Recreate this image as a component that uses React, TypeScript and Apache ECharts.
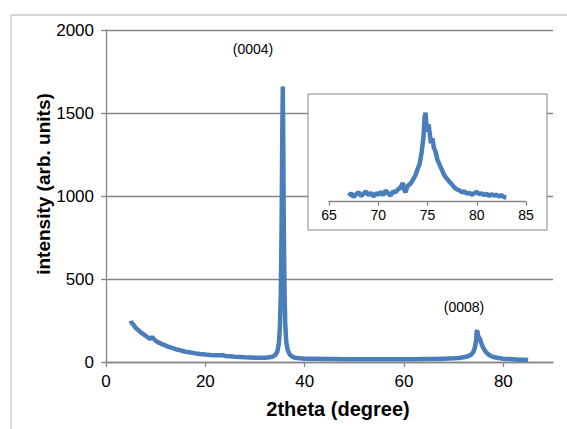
import React, { useEffect, useRef } from "react";
import * as echarts from "echarts";

const twoTheta = [
  5, 5.2, 5.5, 5.8, 6, 6.5, 7, 7.5, 8, 8.5, 9, 9.3, 9.6, 10, 10.5, 11, 11.5, 12, 12.5, 13, 13.5, 14, 14.5, 15,
  15.5, 16, 16.5, 17, 17.5, 18, 18.5, 19, 19.5, 20, 21, 22, 23, 23.5, 24, 25, 26, 27, 28, 29, 30, 31, 32, 33,
  33.5, 34, 34.5, 34.8, 35.0, 35.2, 35.35, 35.5, 35.6, 35.7, 35.8, 35.95, 36.1, 36.3, 36.6, 37, 37.5, 38, 39,
  40, 42, 44, 46, 48, 50, 52, 54, 56, 58, 60, 62, 64, 66, 68, 70, 71, 72, 73, 73.5, 74, 74.3, 74.5, 74.65,
  74.75, 74.9, 75.1, 75.3, 75.5, 75.8, 76.1, 76.5, 77, 77.5, 78, 79, 80, 81, 82, 83, 84, 85,
];
const intensity = [
  248, 232, 226, 212, 205, 192, 178, 168, 158, 146, 138, 152, 140, 128, 118, 112, 104, 100, 92, 88, 84, 78, 74, 70,
  66, 62, 60, 57, 55, 52, 50, 48, 47, 45, 42, 40, 40, 42, 36, 34, 31, 30, 28, 27, 26, 25, 26, 28,
  32, 40, 62, 110, 200, 420, 800, 1400, 1660, 1300, 800, 420, 220, 120, 70, 45, 32, 26, 22,
  20, 19, 18, 18, 17, 17, 16, 16, 16, 17, 17, 17, 18, 18, 20, 22, 24, 28, 36, 44, 62, 90, 125, 185,
  190, 160, 145, 140, 118, 95, 78, 60, 45, 36, 30, 24, 20, 18, 16, 14, 13, 12,
];

const insetTheta = [
  67, 67.25, 67.5, 67.75, 68, 68.25, 68.5, 68.75, 69, 69.25, 69.5, 69.75, 70, 70.25, 70.5, 70.75, 71, 71.25,
  71.5, 71.75, 72, 72.25, 72.5, 72.6, 72.75, 73, 73.25, 73.5, 73.75, 74, 74.2, 74.4, 74.6, 74.7, 74.8, 74.9,
  75.0, 75.1, 75.2, 75.35, 75.5, 75.65, 75.8, 76, 76.25, 76.5, 76.75, 77, 77.25, 77.5, 77.75, 78, 78.25, 78.5,
  78.75, 79, 79.25, 79.5, 79.75, 80, 80.25, 80.5, 80.75, 81, 81.25, 81.5, 81.75, 82, 82.25, 82.5, 82.75, 83,
];
const insetIntensity = [
  12, 18, 10, 16, 20, 12, 17, 22, 14, 19, 11, 18, 15, 21, 14, 24, 18, 13,
  22, 20, 26, 30, 40, 28, 20, 34, 38, 46, 55, 70, 80, 105, 140, 180, 190, 160,
  150, 165, 150, 125, 135, 115, 108, 90, 78, 66, 55, 48, 42, 36, 30, 26, 24, 20,
  22, 17, 19, 15, 18, 21, 16, 18, 14, 17, 12, 16, 13, 15, 11, 14, 10, 9,
];

const mainXTicks = [0, 20, 40, 60, 80];
const insetXTicks = [65, 70, 75, 80, 85];
const peakLabels = ["(0004)", "(0008)"];
const xTitle = "2theta (degree)";
const yTitle = "intensity (arb. units)";

const FONT = "Liberation Sans, Arial, sans-serif";
const GRAY = "#868686";

export default function App() {
  const ref = useRef<HTMLDivElement>(null);
  useEffect(() => {
    document.body.style.margin = "0";
    const chart = echarts.init(ref.current!, null, { renderer: "svg" });
    const mainData = twoTheta.map((x, i) => [x, intensity[i]]);
    const insetData = insetTheta.map((x, i) => [x, insetIntensity[i]]);
    chart.setOption({
      animation: false,
      textStyle: { fontFamily: FONT },
      grid: [
        { left: 106, top: 30, width: 447, height: 332 },
        { left: 329, top: 108, width: 197, height: 93.7 },
      ],
      xAxis: [
        {
          type: "value",
          gridIndex: 0,
          min: 0,
          max: 90,
          interval: 20,
          axisLine: { show: true, onZero: false, lineStyle: { color: GRAY, width: 1.3 } },
          axisTick: { show: true, length: 5, customValues: mainXTicks, lineStyle: { color: GRAY, width: 1.3 } },
          axisLabel: { customValues: mainXTicks, fontSize: 17, color: "#000", margin: 11, fontFamily: FONT },
          splitLine: { show: false },
        },
        {
          type: "value",
          gridIndex: 1,
          min: 65,
          max: 85,
          interval: 5,
          z: 10,
          axisLine: { show: true, onZero: false, lineStyle: { color: GRAY, width: 1.3 } },
          axisTick: { show: true, length: 4, lineStyle: { color: GRAY, width: 1.3 } },
          axisLabel: { customValues: insetXTicks, fontSize: 14, color: "#000", margin: 6, fontFamily: FONT },
          splitLine: { show: false },
        },
      ],
      yAxis: [
        {
          type: "value",
          gridIndex: 0,
          min: 0,
          max: 2000,
          interval: 500,
          axisLine: { show: true, lineStyle: { color: GRAY, width: 1.3 } },
          axisTick: { show: true, length: 5, lineStyle: { color: GRAY, width: 1.3 } },
          axisLabel: { fontSize: 17, color: "#000", margin: 12, fontFamily: FONT, formatter: (v: number) => String(v) },
          splitLine: { show: true, lineStyle: { color: GRAY, width: 1.3 } },
        },
        {
          type: "value",
          gridIndex: 1,
          min: 0,
          max: 200,
          show: false,
        },
      ],
      series: [
        {
          type: "line",
          xAxisIndex: 0,
          yAxisIndex: 0,
          data: mainData,
          showSymbol: false,
          lineStyle: { color: "#4a7ebb", width: 4.5 },
          z: 3,
        },
        {
          type: "line",
          xAxisIndex: 1,
          yAxisIndex: 1,
          data: insetData,
          showSymbol: false,
          lineStyle: { color: "#4a7ebb", width: 4.5 },
          z: 20,
        },
      ],
      graphic: [
        {
          type: "rect",
          shape: { x: 11, y: 15, width: 620, height: 500 },
          style: { fill: "none", stroke: "#c8c8c8", lineWidth: 1.3 },
          z: 1,
          silent: true,
        },
        {
          type: "rect",
          shape: { x: 308, y: 94, width: 239, height: 136 },
          style: { fill: "#fff", stroke: GRAY, lineWidth: 1 },
          z: 5,
          silent: true,
        },
        {
          type: "text",
          x: 253,
          y: 49,
          style: { text: peakLabels[0], fontSize: 14, fill: "#000", align: "center", verticalAlign: "middle", fontFamily: FONT },
          z: 6,
        },
        {
          type: "text",
          x: 464,
          y: 307,
          style: { text: peakLabels[1], fontSize: 14, fill: "#000", align: "center", verticalAlign: "middle", fontFamily: FONT },
          z: 6,
        },
        {
          type: "text",
          x: 338,
          y: 409,
          style: { text: xTitle, fontSize: 20, fontWeight: "bold", fill: "#000", align: "center", verticalAlign: "middle", fontFamily: FONT },
          z: 6,
        },
        {
          type: "text",
          x: 43.5,
          y: 184,
          rotation: Math.PI / 2,
          style: { text: yTitle, fontSize: 19, fontWeight: "bold", fill: "#000", align: "center", verticalAlign: "middle", fontFamily: FONT },
          z: 6,
        },
      ],
    });
    return () => chart.dispose();
  }, []);
  return <div ref={ref} style={{ width: 567, height: 429 }} />;
}
